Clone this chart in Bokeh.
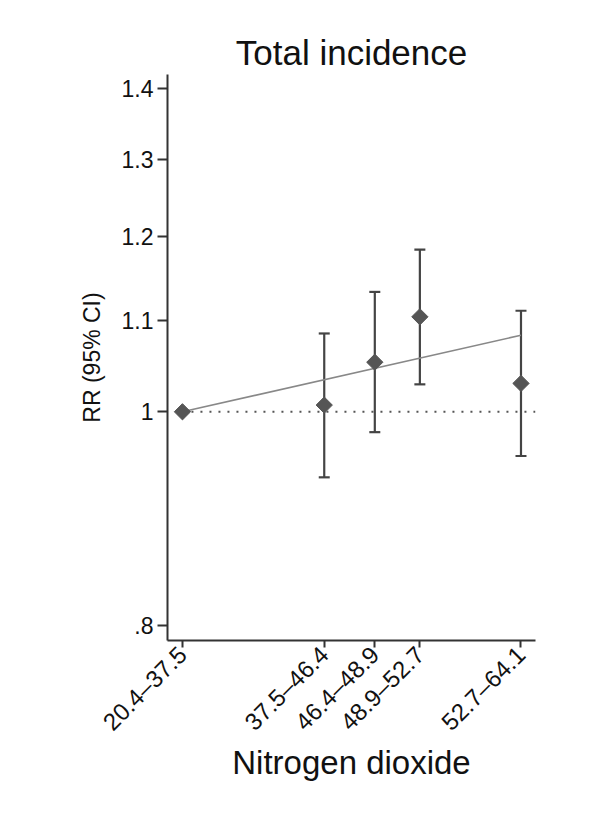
import math
from bokeh.plotting import figure
from bokeh.models import ColumnDataSource, FixedTicker, Range1d, Whisker, TeeHead
from bokeh.embed import file_html
from bokeh.resources import INLINE

# ---- data ----
categories = ["20.4\u201337.5", "37.5\u201346.4", "46.4\u201348.9", "48.9\u201352.7", "52.7\u201364.1"]
exposure = [30.0, 42.9, 47.5, 51.6, 60.8]          # category position on the NO2 scale
rr = [1.0, 1.007, 1.053, 1.104, 1.030]
rr_low = [1.0, 0.934, 0.979, 1.029, 0.955]
rr_high = [1.0, 1.085, 1.133, 1.184, 1.111]
trend_x = [30.0, 60.8]
trend_rr = [1.0, 1.083]
y_ticks = [0.8, 1.0, 1.1, 1.2, 1.3, 1.4]
y_tick_labels = [".8", "1", "1.1", "1.2", "1.3", "1.4"]

FONT = "Liberation Sans"

p = figure(width=592, height=808, output_backend="svg", toolbar_location=None,
           y_axis_type="log",
           x_range=Range1d(28.64, 62.12), y_range=Range1d(0.788, 1.421),
           min_border_left=167, min_border_right=57, min_border_top=74, min_border_bottom=168,
           title="Total incidence")

p.outline_line_color = None
p.grid.grid_line_color = None
p.background_fill_color = "white"
p.border_fill_color = "white"

p.title.align = "center"
p.title.text_font = FONT
p.title.text_font_size = "35px"
p.title.text_font_style = "normal"
p.title.text_color = "#111111"
p.title.standoff = 6

# reference line RR = 1
p.line([exposure[0], 62.12], [1.0, 1.0], line_color="#555555", line_width=2, line_dash="2 7")

# trend line
p.line(trend_x, trend_rr, line_color="#888888", line_width=1.6)

# error bars (skip the reference category)
src = ColumnDataSource(dict(x=exposure[1:], lo=rr_low[1:], hi=rr_high[1:]))
w = Whisker(source=src, base="x", lower="lo", upper="hi", dimension="height",
            line_color="#444444", line_width=2.2,
            upper_head=TeeHead(size=11, line_color="#444444", line_width=2.2),
            lower_head=TeeHead(size=11, line_color="#444444", line_width=2.2))
p.add_layout(w)

# point estimates
p.scatter(exposure, rr, marker="square", angle=math.pi / 4, size=11.5,
          fill_color="#555555", line_color="#555555")

# axes
xa = p.xaxis[0]
xa.ticker = FixedTicker(ticks=exposure, minor_ticks=[])
xa.major_label_overrides = {x: c for x, c in zip(exposure, categories)}
xa.major_label_orientation = math.pi / 4
xa.major_label_text_font = FONT
xa.major_label_text_font_size = "24px"
xa.major_label_text_color = "#111111"
xa.major_tick_out = 7
xa.major_tick_in = 0
xa.minor_tick_out = 0
xa.minor_tick_in = 0
xa.major_label_standoff = 3
xa.axis_line_width = 2
xa.axis_line_color = "#333333"
xa.major_tick_line_width = 2
xa.major_tick_line_color = "#333333"
xa.axis_label = "Nitrogen dioxide"
xa.axis_label_text_font = FONT
xa.axis_label_text_font_size = "33px"
xa.axis_label_text_font_style = "normal"
xa.axis_label_text_color = "#111111"
xa.axis_label_standoff = -4

ya = p.yaxis[0]
ya.ticker = FixedTicker(ticks=y_ticks, minor_ticks=[])
ya.major_label_overrides = {t: l for t, l in zip(y_ticks, y_tick_labels)}
ya.major_label_text_font = FONT
ya.major_label_text_font_size = "23px"
ya.major_label_text_color = "#111111"
ya.major_tick_out = 10
ya.major_tick_in = 0
ya.minor_tick_out = 0
ya.minor_tick_in = 0
ya.major_label_standoff = 4
ya.axis_line_width = 2
ya.axis_line_color = "#333333"
ya.major_tick_line_width = 2
ya.major_tick_line_color = "#333333"
ya.axis_label = "RR (95% CI)"
ya.axis_label_text_font = FONT
ya.axis_label_text_font_size = "23px"
ya.axis_label_text_font_style = "normal"
ya.axis_label_text_color = "#111111"
ya.axis_label_standoff = 14

open("out.html", "w").write(file_html(p, INLINE))
